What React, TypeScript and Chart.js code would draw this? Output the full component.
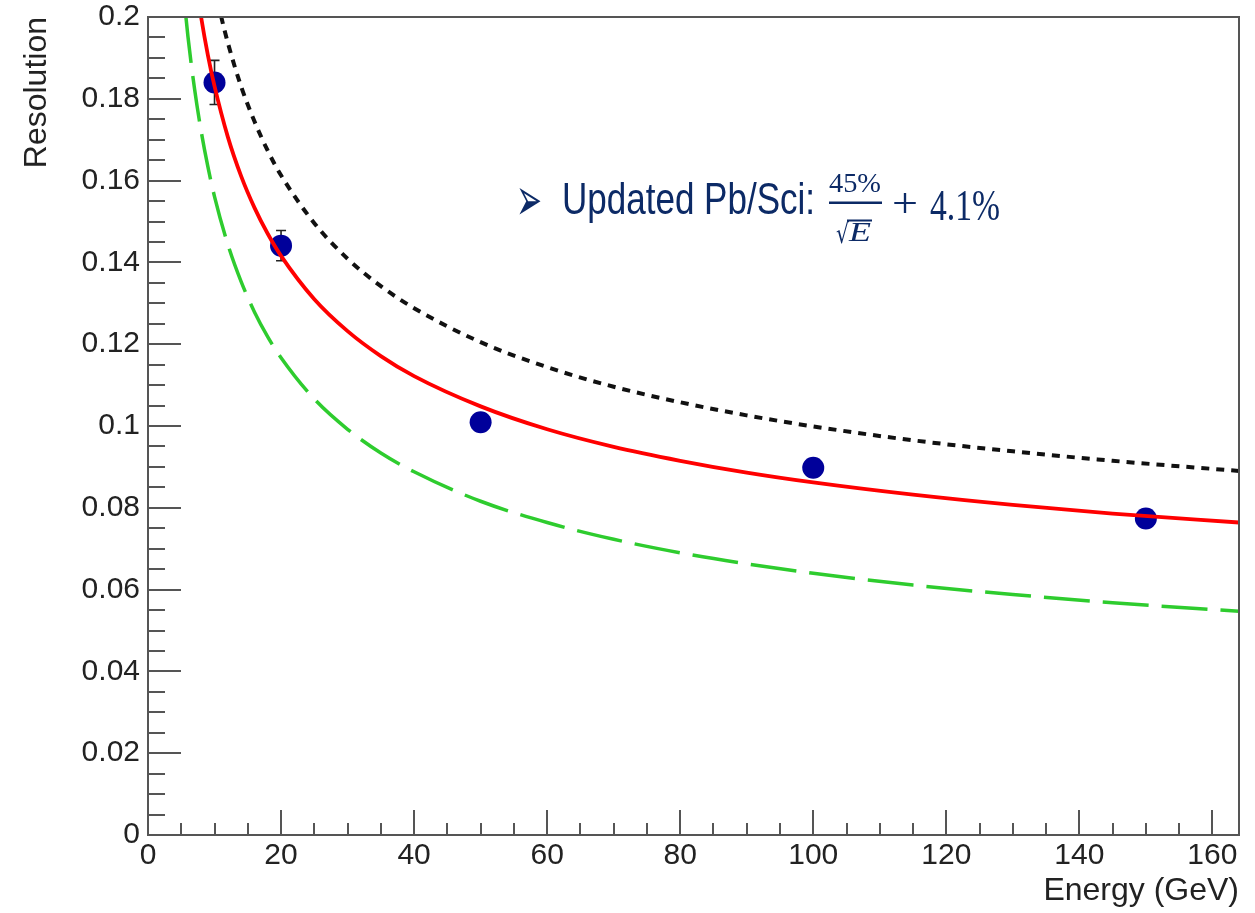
import React, { useEffect, useRef } from 'react';
import { Chart, registerables } from 'chart.js';

Chart.register(...registerables);

// Measured data points (Energy [GeV], resolution, error)
const energies = [10, 20, 50, 100, 150];
const resolution = [0.184, 0.1441, 0.1009, 0.0898, 0.0774];
const resolutionErr = [0.0054, 0.0037, 0.0012, 0.001, 0.001];

// Red solid curve (updated fit)
const redE = [7, 8, 9, 10, 12, 14, 16, 18, 20, 25, 30, 35, 40, 50, 60, 70, 80, 90, 100, 115, 130, 145, 164];
const redY = [0.2107, 0.1998, 0.1907, 0.1831, 0.1707, 0.1611, 0.1534, 0.147, 0.1416, 0.131, 0.1232, 0.1171, 0.1122, 0.1048, 0.0992, 0.0949, 0.0915, 0.0886, 0.0862, 0.0832, 0.0807, 0.0786, 0.0764];

// Black dotted curve
const blackE = [10, 11, 12, 14, 16, 18, 20, 25, 30, 35, 40, 50, 60, 70, 80, 90, 100, 115, 130, 145, 164];
const blackY = [0.2074, 0.2001, 0.1937, 0.183, 0.1745, 0.1673, 0.1613, 0.1496, 0.1409, 0.1342, 0.1288, 0.1205, 0.1144, 0.1096, 0.1058, 0.1026, 0.0999, 0.0965, 0.0938, 0.0915, 0.089];

// Green dashed curve
const greenE = [5, 6, 7, 8, 9, 10, 12, 14, 16, 18, 20, 25, 30, 35, 40, 50, 60, 70, 80, 90, 100, 115, 130, 145, 164];
const greenY = [0.2119, 0.1953, 0.1824, 0.172, 0.1634, 0.1561, 0.1444, 0.1353, 0.1279, 0.1218, 0.1167, 0.1066, 0.0992, 0.0934, 0.0888, 0.0816, 0.0764, 0.0723, 0.069, 0.0663, 0.064, 0.0611, 0.0588, 0.0568, 0.0547];

// Axes
const xMin = 0;
const xMax = 164;
const yMin = 0;
const yMax = 0.2;
const xTickValues = [0, 20, 40, 60, 80, 100, 120, 140, 160];
const xTickLabels = ['0', '20', '40', '60', '80', '100', '120', '140', '160'];
const yTickValues = [0, 0.02, 0.04, 0.06, 0.08, 0.1, 0.12, 0.14, 0.16, 0.18, 0.2];
const yTickLabels = ['0', '0.02', '0.04', '0.06', '0.08', '0.1', '0.12', '0.14', '0.16', '0.18', '0.2'];
const xMinorStep = 5;
const yMinorStep = 0.005;

const xTitle = 'Energy (GeV)';
const yTitle = 'Resolution';
const annotationBullet = '\u27A2';
const annotationText = 'Updated Pb/Sci:';
const annotationNum = '45%';
const annotationDenRoot = '\u221A';
const annotationDenVar = 'E';
const annotationPlus = '+';
const annotationConst = '4.1%';

const AXIS_COLOR = '#555555';
const TEXT_COLOR = '#222222';
const NAVY = '#0c2a66';

function pts(xs: number[], ys: number[]) {
  return xs.map((x, i) => ({ x, y: ys[i] }));
}

function fitText(ctx: CanvasRenderingContext2D, text: string, font: string, x: number, y: number, w: number) {
  ctx.font = font;
  const m = ctx.measureText(text).width || 1;
  ctx.save();
  ctx.translate(x, y);
  ctx.scale(w / m, 1);
  ctx.fillText(text, 0, 0);
  ctx.restore();
}

const rootStylePlugin = {
  id: 'rootStyle',
  beforeDatasetsDraw(chart: any) {
    const { ctx, chartArea } = chart;
    const xs = chart.scales.x;
    const ys = chart.scales.y;
    ctx.save();
    // inner ticks
    ctx.strokeStyle = AXIS_COLOR;
    ctx.lineWidth = 2;
    ctx.beginPath();
    for (let k = 0; k * yMinorStep <= yMax + 1e-9; k++) {
      const v = k * yMinorStep;
      const major = k % 4 === 0;
      const py = Math.round(ys.getPixelForValue(v));
      ctx.moveTo(chartArea.left, py);
      ctx.lineTo(chartArea.left + (major ? 33 : 17), py);
    }
    for (let k = 0; k * xMinorStep <= xMax + 1e-9; k++) {
      const v = k * xMinorStep;
      const major = k % 4 === 0;
      const px = Math.round(xs.getPixelForValue(v));
      ctx.moveTo(px, chartArea.bottom);
      ctx.lineTo(px, chartArea.bottom - (major ? 25 : 12));
    }
    ctx.stroke();
    // error bars
    ctx.strokeStyle = '#222222';
    ctx.lineWidth = 1.6;
    ctx.beginPath();
    energies.forEach((e, i) => {
      const px = xs.getPixelForValue(e);
      const y1 = ys.getPixelForValue(resolution[i] + resolutionErr[i]);
      const y2 = ys.getPixelForValue(resolution[i] - resolutionErr[i]);
      ctx.moveTo(px, y1);
      ctx.lineTo(px, y2);
      ctx.moveTo(px - 5, y1);
      ctx.lineTo(px + 5, y1);
      ctx.moveTo(px - 5, y2);
      ctx.lineTo(px + 5, y2);
    });
    ctx.stroke();
    ctx.restore();
  },
  afterDraw(chart: any) {
    const { ctx, chartArea } = chart;
    ctx.save();
    // frame top and right
    ctx.strokeStyle = AXIS_COLOR;
    ctx.lineWidth = 2;
    ctx.beginPath();
    ctx.moveTo(chartArea.left, chartArea.top);
    ctx.lineTo(chartArea.right, chartArea.top);
    ctx.lineTo(chartArea.right, chartArea.bottom);
    ctx.stroke();

    // annotation
    ctx.fillStyle = NAVY;
    ctx.textAlign = 'left';
    ctx.textBaseline = 'alphabetic';
    fitText(ctx, annotationBullet, '60px "DejaVu Sans"', 516, 220, 26);
    fitText(ctx, annotationText, '45px "Liberation Sans", Arial, sans-serif', 562, 214, 253);
    fitText(ctx, annotationNum, '27px "Liberation Serif", serif', 829, 192, 52);
    ctx.fillRect(829, 201.5, 53, 2.5);
    fitText(ctx, annotationDenRoot, '27px "DejaVu Serif", serif', 836, 243, 13);
    ctx.fillRect(847, 219.5, 25, 2);
    fitText(ctx, annotationDenVar, 'italic 27px "Liberation Serif", serif', 849, 241, 22);
    fitText(ctx, annotationPlus, '42px "Liberation Serif", serif', 892, 217, 26);
    fitText(ctx, annotationConst, '44px "Liberation Serif", serif', 930, 220, 70);
    ctx.restore();
  },
};

export default function App() {
  const canvasRef = useRef<HTMLCanvasElement | null>(null);

  useEffect(() => {
    if (!canvasRef.current) return;
    const chart = new Chart(canvasRef.current, {
      type: 'line',
      data: {
        datasets: [
          {
            label: 'Data',
            data: pts(energies, resolution),
            showLine: false,
            pointRadius: 11,
            pointHoverRadius: 11,
            pointBackgroundColor: '#00009a',
            pointBorderColor: '#00009a',
            pointBorderWidth: 0,
            order: 3,
          },
          {
            label: 'Green',
            data: pts(greenE, greenY),
            borderColor: '#2ecc2e',
            borderWidth: 3.5,
            borderDash: [46, 13],
            borderDashOffset: 10,
            pointRadius: 0,
            cubicInterpolationMode: 'monotone',
            clip: 0,
            order: 2,
          },
          {
            label: 'Black',
            data: pts(blackE, blackY),
            borderColor: '#111111',
            borderWidth: 4,
            borderDash: [8, 7],
            pointRadius: 0,
            cubicInterpolationMode: 'monotone',
            clip: 0,
            order: 1,
          },
          {
            label: 'Red',
            data: pts(redE, redY),
            borderColor: '#ff0000',
            borderWidth: 3.8,
            pointRadius: 0,
            cubicInterpolationMode: 'monotone',
            clip: 0,
            order: 0,
          },
        ],
      },
      options: {
        responsive: false,
        animation: false,
        events: [],
        layout: { padding: { left: 0, right: 16, top: 17, bottom: 0 } },
        plugins: { legend: { display: false }, tooltip: { enabled: false }, title: { display: false } },
        scales: {
          x: {
            type: 'linear',
            min: xMin,
            max: xMax,
            afterBuildTicks: (scale: any) => {
              scale.ticks = xTickValues.map((v) => ({ value: v }));
            },
            afterFit: (scale: any) => {
              scale.height = 78;
              scale.paddingLeft = 0;
              scale.paddingRight = 0;
            },
            grid: { display: true, drawOnChartArea: false, drawTicks: false, color: 'rgba(0,0,0,0)' },
            border: { display: true, color: AXIS_COLOR, width: 2 },
            ticks: {
              autoSkip: false,
              maxRotation: 0,
              padding: 3,
              color: TEXT_COLOR,
              font: { family: '"Liberation Sans", Arial, sans-serif', size: 30 },
              callback: (_v: any, i: number) => xTickLabels[i],
            },
            title: {
              display: true,
              text: xTitle,
              align: 'end',
              color: TEXT_COLOR,
              font: { family: '"Liberation Sans", Arial, sans-serif', size: 32 },
              padding: { top: 0, bottom: 3 },
            },
          },
          y: {
            type: 'linear',
            min: yMin,
            max: yMax,
            afterBuildTicks: (scale: any) => {
              scale.ticks = yTickValues.map((v) => ({ value: v }));
            },
            afterFit: (scale: any) => {
              scale.width = 148;
              scale.paddingTop = 0;
              scale.paddingBottom = 0;
            },
            grid: { display: true, drawOnChartArea: false, drawTicks: false, color: 'rgba(0,0,0,0)' },
            border: { display: true, color: AXIS_COLOR, width: 2 },
            ticks: {
              autoSkip: false,
              padding: 8,
              color: TEXT_COLOR,
              font: { family: '"Liberation Sans", Arial, sans-serif', size: 30 },
              callback: (_v: any, i: number) => yTickLabels[i],
            },
            title: {
              display: true,
              text: yTitle,
              align: 'end',
              color: TEXT_COLOR,
              font: { family: '"Liberation Sans", Arial, sans-serif', size: 32 },
              padding: { top: 18, bottom: 0 },
            },
          },
        },
      },
      plugins: [rootStylePlugin],
    } as any);
    return () => chart.destroy();
  }, []);

  return (
    <div style={{ position: 'fixed', left: 0, top: 0, width: 1255, height: 913, background: '#ffffff' }}>
      <canvas ref={canvasRef} width={1255} height={913} style={{ display: 'block' }} />
    </div>
  );
}
